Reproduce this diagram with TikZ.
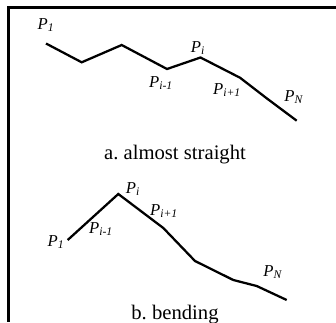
\documentclass[tikz,border=0pt]{standalone}
\usepackage{fontspec}
\setmainfont{Liberation Serif}
\usepackage{tikz}
\usetikzlibrary{positioning}
\frenchspacing

\newcommand{\plab}[1]{\textit{P}\textsubscript{\textit{#1}}}

\begin{document}
\begin{tikzpicture}[
    x=0.75pt, y=-0.75pt,
    frame/.style={line width=1.6pt, line cap=rect},
    chain/.style={line width=1.7pt, line join=miter},
    lbl/.style={font=\fontsize{12.5}{14}\selectfont, inner sep=0pt},
    capt/.style={font=\fontsize{15.5}{18}\selectfont, inner sep=0pt, anchor=base},
]
\useasboundingbox (0,0) rectangle (336,322);

%% ── Frame ───────────────────────────────────────────────────────────────────
\coordinate (fTR) at (336,7.5);
\coordinate (fTL) at (8.5,7.5);
\coordinate (fBL) at (8.5,321);
\draw[frame] (fTR) -- (fTL) -- (fBL);

%% ── a. almost straight ──────────────────────────────────────────────────────
\coordinate (a1) at (46,43.5);
\coordinate (a2) at (81.7,62.3);
\coordinate (a3) at (121.7,45);
\coordinate (a4) at (167,69);
\coordinate (a5) at (200.5,57.5);
\coordinate (a6) at (240,77.7);
\coordinate (a7) at (266.7,98.3);
\coordinate (a8) at (296.7,120.7);
\draw[chain] (a1) -- (a2) -- (a3) -- (a4) -- (a5) -- (a6) -- (a7) -- (a8);

\node[lbl] (aP1)  at (46,25)  {\plab{1}};
\node[lbl] (aPi)  at (198,48) {\plab{i}};
\node[lbl] (aPim) at (161,83) {\plab{i-1}};
\node[lbl] (aPip) at (227,90) {\plab{i+1}};
\node[lbl] (aPN)  at (294,97) {\plab{N}};

\node[capt] (capA) at (175,159.5) {a. almost straight};

%% ── b. bending ──────────────────────────────────────────────────────────────
\coordinate (b1) at (67.7,240);
\coordinate (b2) at (118.3,194);
\coordinate (b3) at (163.3,228);
\coordinate (b4) at (195,261);
\coordinate (b5) at (233.3,280);
\coordinate (b6) at (256.7,286);
\coordinate (b7) at (286.7,300);
\draw[chain] (b1) -- (b2) -- (b3) -- (b4) -- (b5) -- (b6) -- (b7);

\node[lbl] (bP1)  at (56,242)  {\plab{1}};
\node[lbl] (bPim) at (101,229) {\plab{i-1}};
\node[lbl] (bPi)  at (133,189) {\plab{i}};
\node[lbl] (bPip) at (164,211) {\plab{i+1}};
\node[lbl] (bPN)  at (273,272) {\plab{N}};

\node[capt] (capB) at (175,319.5) {b. bending};

\end{tikzpicture}
\end{document}
